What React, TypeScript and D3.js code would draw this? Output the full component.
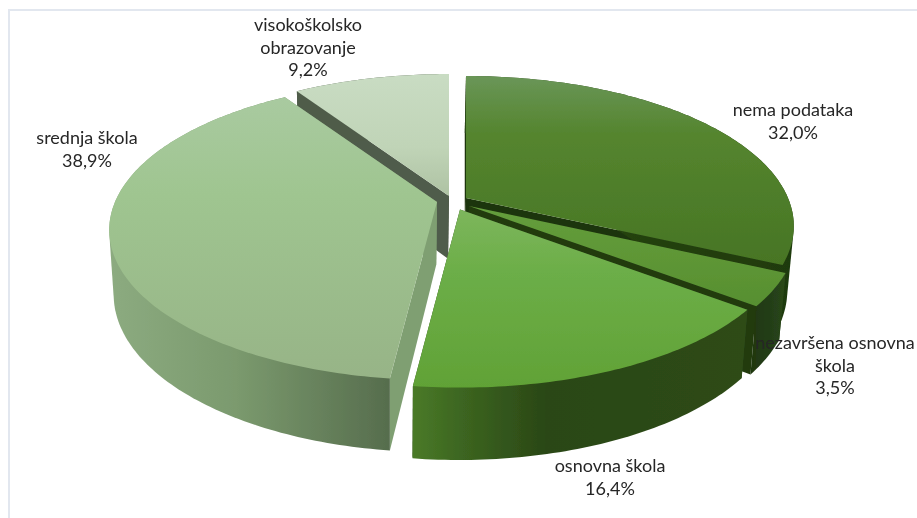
import React from "react";
import * as d3 from "d3";

const categories = ["nema podataka", "nezavršena osnovna škola", "osnovna škola", "srednja škola", "visokoškolsko obrazovanje"];
const shares = [32.0, 3.5, 16.4, 38.9, 9.2];
const shareLabels = ["32,0%", "3,5%", "16,4%", "38,9%", "9,2%"];
const labelLines = [["nema podataka"], ["nezavršena osnovna", "škola"], ["osnovna škola"], ["srednja škola"], ["visokoškolsko", "obrazovanje"]];

// layout (not data)
const W = 917, H = 518;
const CX = 456, CY = 203;
const explodeOffsets = [[10, -5], [13, 3], [4, 6.5], [-19, -1], [-7, -7]];
const labelAnchors = [[793, 116], [835, 349], [610, 472], [87, 144], [308, 31]];
const R = 322, A = 144.8, K = 0.187;
const drawOrder = [4, 0, 1, 3, 2];

const topStops = [
  [["0", "#6a9658"], ["0.3", "#55852f"], ["1", "#477524"]],
  [["0", "#659e3c"], ["1", "#578f30"]],
  [["0", "#7db65c"], ["0.35", "#6cae48"], ["1", "#61a236"]],
  [["0", "#a9caa0"], ["0.35", "#9fc590"], ["1", "#97b487"]],
  [["0", "#c9dcc3"], ["0.6", "#c0d4b7"], ["1", "#aec2a3"]],
];
const wallStops = [
  [["0", "#2a4a14"], ["1", "#1f3a0e"]],
  [["0", "#1f360f"], ["0.7", "#25401a"], ["1", "#2c4a18"]],
  [["0", "#4a7a28"], ["0.15", "#3c6520"], ["0.4", "#2a4716"], ["1", "#2e4b18"]],
  [["0", "#8cab80"], ["0.45", "#7b9a6e"], ["1", "#566d4d"]],
  [["0", "#4f5c4a"], ["1", "#4f5c4a"]],
];
const radialWallColors = ["#1f360f", "#213a10", "#2e4b18", "#7f9f72", "#505c4b"];

type P = [number, number];
const proj = (t: number, ox: number, oy: number): P => {
  const x = Math.sin(t), y = -Math.cos(t);
  const d = 1 - K * y;
  return [ox + (R * x) / d, oy + (A * y) / d];
};
const drop = ([x, y]: P): P => [388 + (x - 388) * 0.984, y + 63 + (y - 200) * 0.05];
const line = d3.line<P>();

export default function App() {
  const arcs = d3.pie<number>().sort(null).startAngle(0).endAngle(2 * Math.PI)(shares);
  document.body.style.margin = "0";
  const font = "Lato, 'Open Sans', sans-serif";
  return (
    <svg width={W} height={H} style={{ position: "absolute", left: 0, top: 0, background: "#fff" }}>
      <defs>
        <filter id="soft" x="-5%" y="-5%" width="110%" height="110%">
          <feGaussianBlur stdDeviation="0.4" />
        </filter>
        {topStops.map((st, i) => (
          <linearGradient key={i} id={`top${i}`} x1="0" y1="0" x2="0" y2="1">
            {st.map(([o, c]) => <stop key={o} offset={o} stopColor={c} />)}
          </linearGradient>
        ))}
        {wallStops.map((st, i) => (
          <linearGradient key={i} id={`wall${i}`} x1="0" y1="0" x2="1" y2="0">
            {st.map(([o, c]) => <stop key={o} offset={o} stopColor={c} />)}
          </linearGradient>
        ))}
      </defs>
      <path d={`M9 518V10H917`} fill="none" stroke="#e2e7ef" strokeWidth={2} />
      <g filter="url(#soft)">
        {drawOrder.map((i) => {
          const a = arcs[i];
          const ox = CX + explodeOffsets[i][0], oy = CY + explodeOffsets[i][1];
          const n = Math.max(8, Math.round((a.endAngle - a.startAngle) * 60));
          const pts: P[] = d3.range(n + 1).map((k) => proj(a.startAngle + ((a.endAngle - a.startAngle) * k) / n, ox, oy));
          const apex: P = [ox, oy];
          const outer = d3.polygonHull([...pts, ...pts.map(drop)]) as P[];
          const s0 = pts[0], s1 = pts[n];
          return (
            <g key={categories[i]}>
              <path d={line([apex, s0, drop(s0), drop(apex)]) + "Z"} fill={radialWallColors[i]} />
              <path d={line([apex, s1, drop(s1), drop(apex)]) + "Z"} fill={radialWallColors[i]} />
              <path d={line(outer) + "Z"} fill={`url(#wall${i})`} />
              <path d={line([apex, ...pts]) + "Z"} fill={`url(#top${i})`} />
            </g>
          );
        })}
        {categories.map((c, i) => {
          const [x, y] = labelAnchors[i];
          const lines = [...labelLines[i], shareLabels[i]];
          return (
            <text key={c} x={x} y={y} textAnchor="middle" fontFamily={font} fontSize={18} fill="#262626">
              {lines.map((l, k) => <tspan key={k} x={x} dy={k === 0 ? 0 : 22.7}>{l}</tspan>)}
            </text>
          );
        })}
      </g>
    </svg>
  );
}
